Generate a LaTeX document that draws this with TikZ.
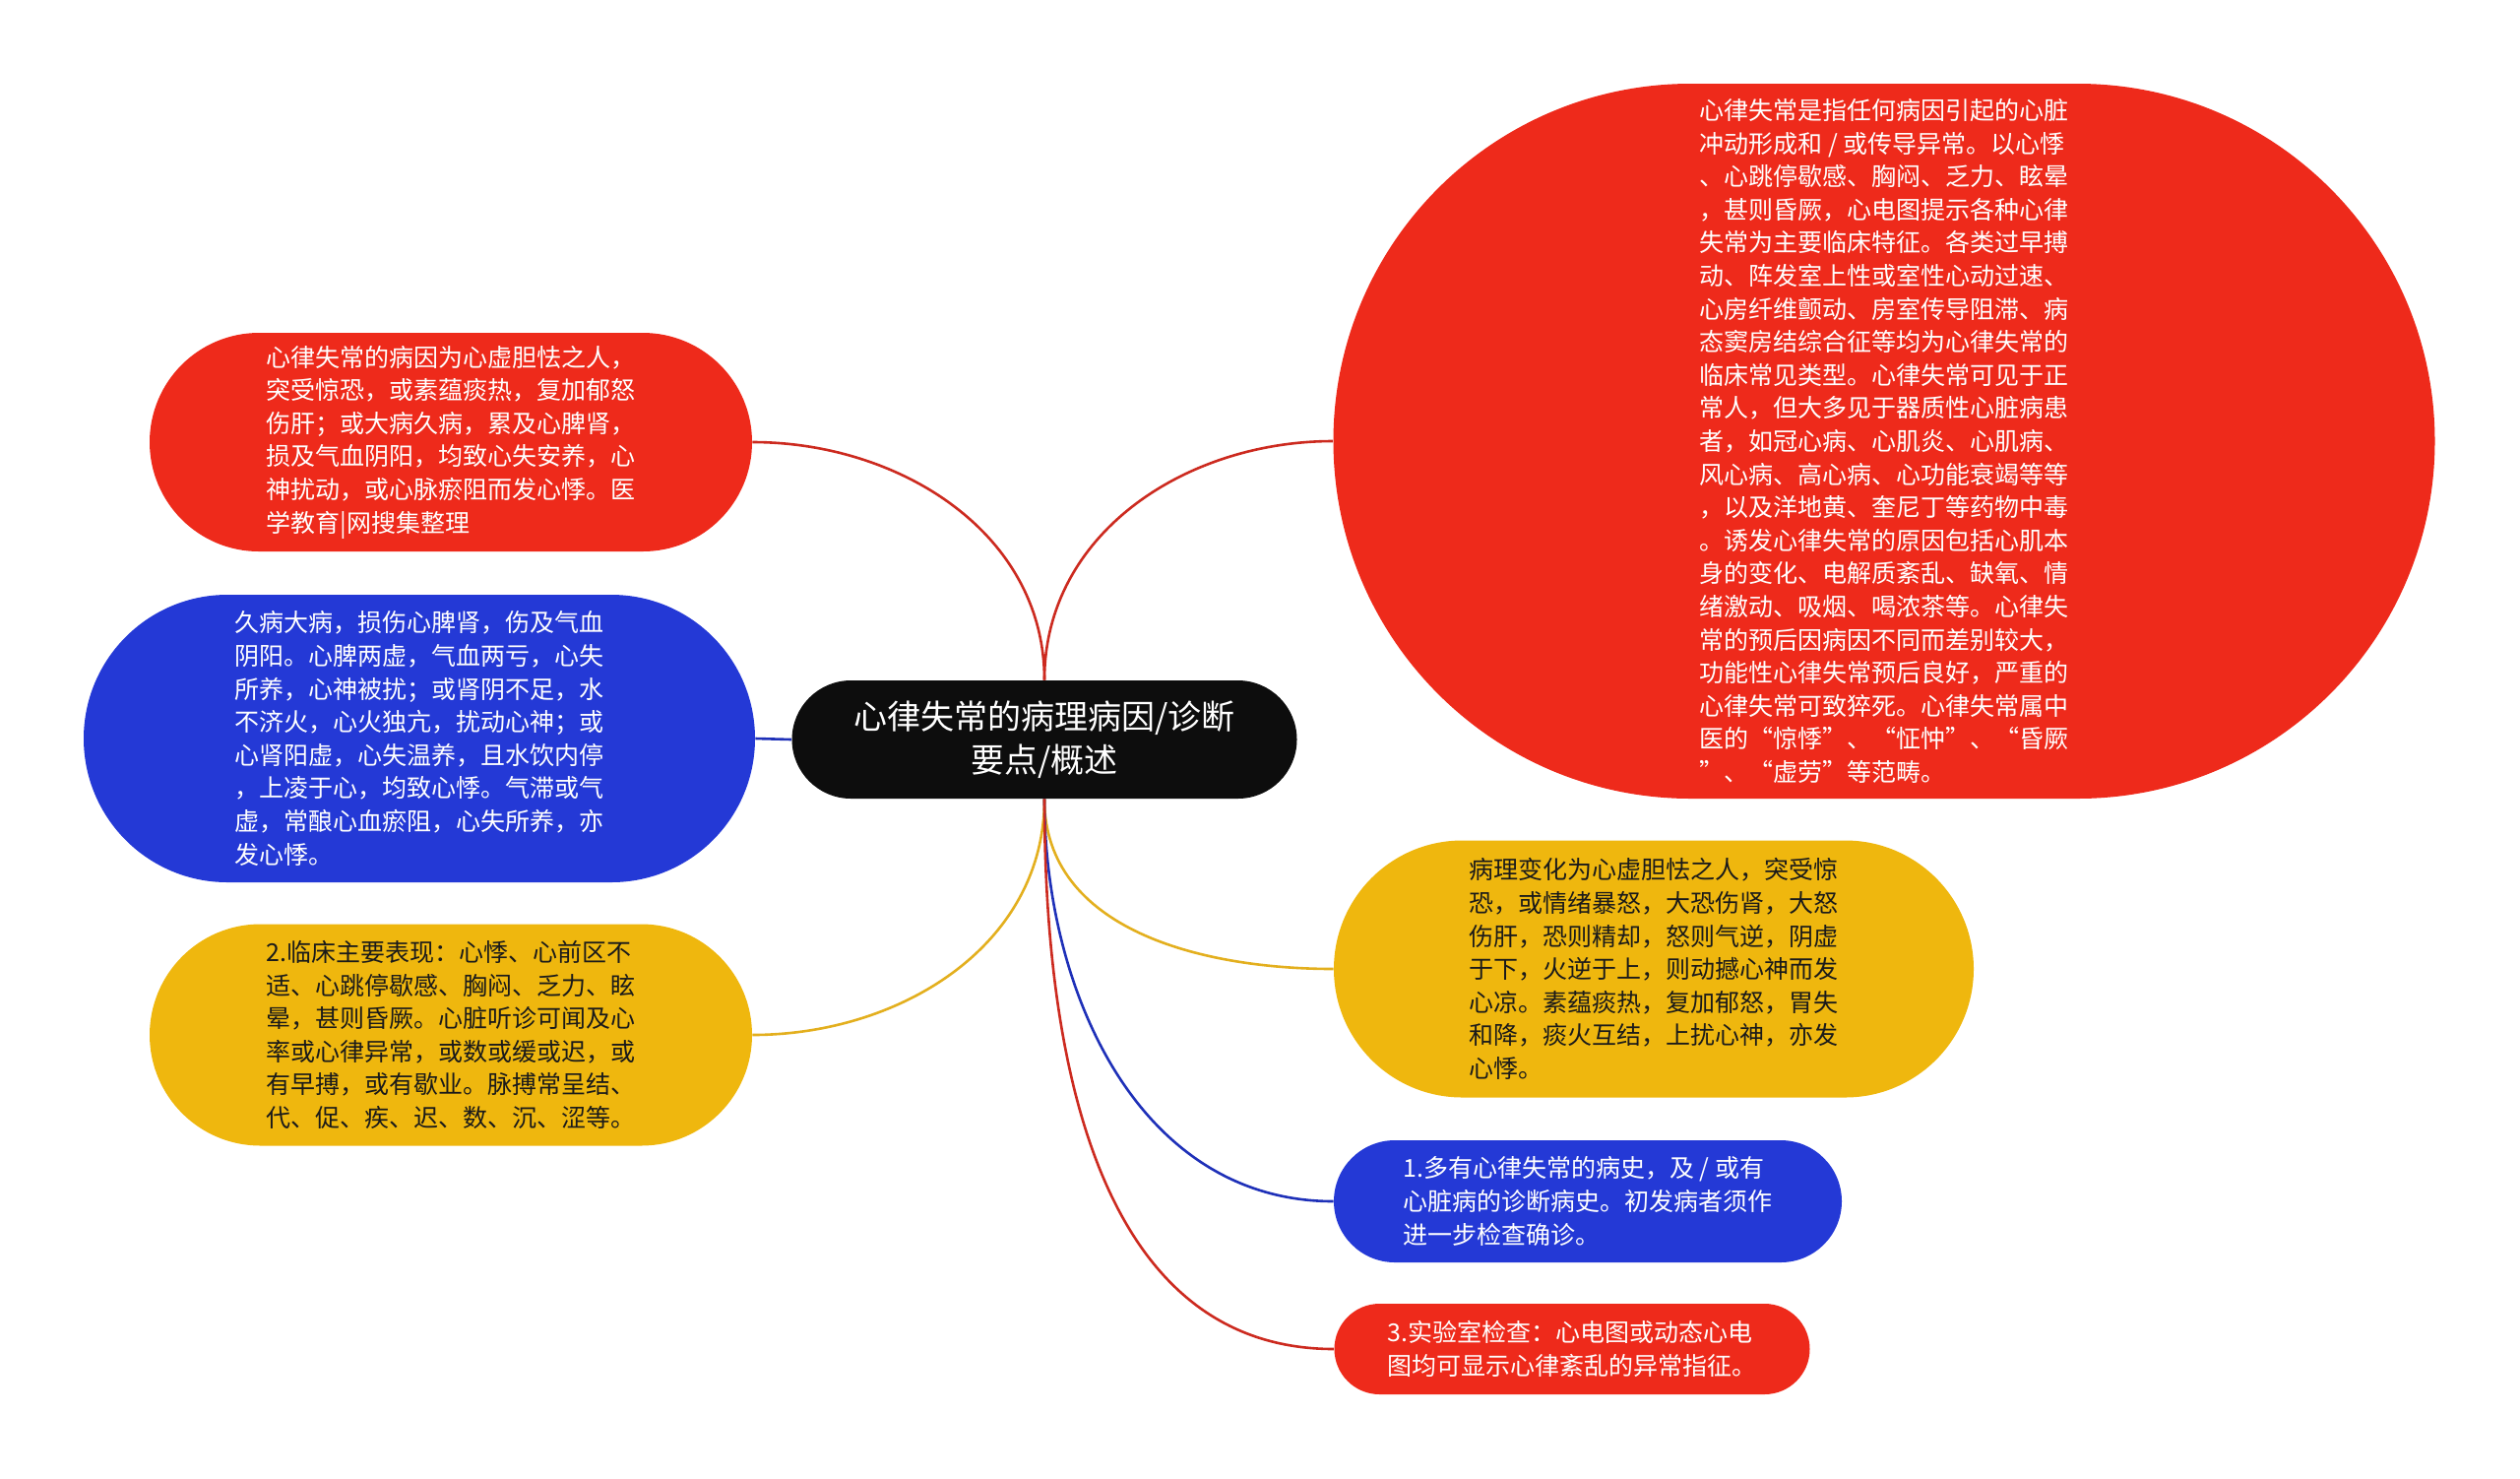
\documentclass[tikz,border=0pt]{standalone}
\usepackage{fontspec}
\newfontfamily\cjk{Noto Sans CJK SC}
\definecolor{mapred}{HTML}{EE2A1B}
\definecolor{mapblue}{HTML}{2439D6}
\definecolor{mapyellow}{HTML}{EFB70E}
\definecolor{maproot}{HTML}{0D0D0D}
\definecolor{linered}{HTML}{CC2A1F}
\definecolor{lineblue}{HTML}{1E30B8}
\definecolor{lineyellow}{HTML}{E3AF1E}
\definecolor{darktext}{HTML}{1A1A1A}

\begin{document}
\begin{tikzpicture}[x=0.5pt,y=-0.5pt]

\tikzset{root/.style = {shape=rectangle, fill=maproot, text=white, align=center, inner sep=0pt, minimum width=256.5pt, minimum height=60pt, rounded corners=30pt, font=\cjk\fontsize{17}{22}\selectfont}}
\tikzset{branch/.style = {shape=rectangle, inner sep=0pt, align=left, text=white, font=\cjk\fontsize{12.5}{16.8}\selectfont}}
\tikzset{pill/.style 2 args = {minimum width=#1, minimum height=#2, rounded corners=0.5*#2}}
\tikzset{edge/.style = {line width=1.3pt}}
\useasboundingbox (0,0) rectangle (2560,1501);
%root
\node[root] (root) at (1061,751) {心律失常的病理病因/诊断\\要点/概述};
%left branches
\node[branch, pill={306pt}{111pt}, fill=mapred] (cause) at (458,449) {心律失常的病因为心虚胆怯之人，\\突受惊恐，或素蕴痰热，复加郁怒\\伤肝；或大病久病，累及心脾肾，\\损及气血阴阳，均致心失安养，心\\神扰动，或心脉瘀阻而发心悸。医\\学教育|网搜集整理};
\node[branch, pill={341pt}{146pt}, fill=mapblue] (deficiency) at (426,750) {久病大病，损伤心脾肾，伤及气血\\阴阳。心脾两虚，气血两亏，心失\\所养，心神被扰；或肾阴不足，水\\不济火，心火独亢，扰动心神；或\\心肾阳虚，心失温养，且水饮内停\\，上凌于心，均致心悸。气滞或气\\虚，常酿心血瘀阻，心失所养，亦\\发心悸。};
\node[branch, pill={306pt}{112.5pt}, fill=mapyellow, text=darktext] (clinical) at (458,1051) {2.临床主要表现：心悸、心前区不\\适、心跳停歇感、胸闷、乏力、眩\\晕，甚则昏厥。心脏听诊可闻及心\\率或心律异常，或数或缓或迟，或\\有早搏，或有歇业。脉搏常呈结、\\代、促、疾、迟、数、沉、涩等。};
%right branches
\node[branch, pill={559.5pt}{363pt}, fill=mapred] (overview) at (1914,448) {心律失常是指任何病因引起的心脏\\冲动形成和 / 或传导异常。以心悸\\、心跳停歇感、胸闷、乏力、眩晕\\，甚则昏厥，心电图提示各种心律\\失常为主要临床特征。各类过早搏\\动、阵发室上性或室性心动过速、\\心房纤维颤动、房室传导阻滞、病\\态窦房结综合征等均为心律失常的\\临床常见类型。心律失常可见于正\\常人，但大多见于器质性心脏病患\\者，如冠心病、心肌炎、心肌病、\\风心病、高心病、心功能衰竭等等\\，以及洋地黄、奎尼丁等药物中毒\\。诱发心律失常的原因包括心肌本\\身的变化、电解质紊乱、缺氧、情\\绪激动、吸烟、喝浓茶等。心律失\\常的预后因病因不同而差别较大，\\功能性心律失常预后良好，严重的\\心律失常可致猝死。心律失常属中\\医的“惊悸”、“怔忡”、“昏厥\\”、“虚劳”等范畴。};
\node[branch, pill={325pt}{130.5pt}, fill=mapyellow, text=darktext] (pathology) at (1680,984) {病理变化为心虚胆怯之人，突受惊\\恐，或情绪暴怒，大恐伤肾，大怒\\伤肝，恐则精却，怒则气逆，阴虚\\于下，火逆于上，则动撼心神而发\\心凉。素蕴痰热，复加郁怒，胃失\\和降，痰火互结，上扰心神，亦发\\心悸。};
\node[branch, pill={258pt}{62pt}, fill=mapblue] (history) at (1613,1220) {1.多有心律失常的病史，及 / 或有\\心脏病的诊断病史。初发病者须作\\进一步检查确诊。};
\node[branch, pill={241.5pt}{46pt}, fill=mapred] (lab) at (1597,1370) {3.实验室检查：心电图或动态心电\\图均可显示心律紊乱的异常指征。};
%connectors
\draw[edge, linered] (root.north) to[out=90, in=0] (cause.east);
\draw[edge, linered] (root.north) to[out=90, in=180] (overview.west);
\draw[edge, lineblue] (root.west) -- (deficiency.east);
\draw[edge, lineyellow] (root.south) to[out=-90, in=0] (clinical.east);
\draw[edge, lineyellow] (root.south) to[out=-90, in=180] (pathology.west);
\draw[edge, lineblue] (root.south) to[out=-90, in=180] (history.west);
\draw[edge, linered] (root.south) to[out=-90, in=180] (lab.west);

\end{tikzpicture}
\end{document}
